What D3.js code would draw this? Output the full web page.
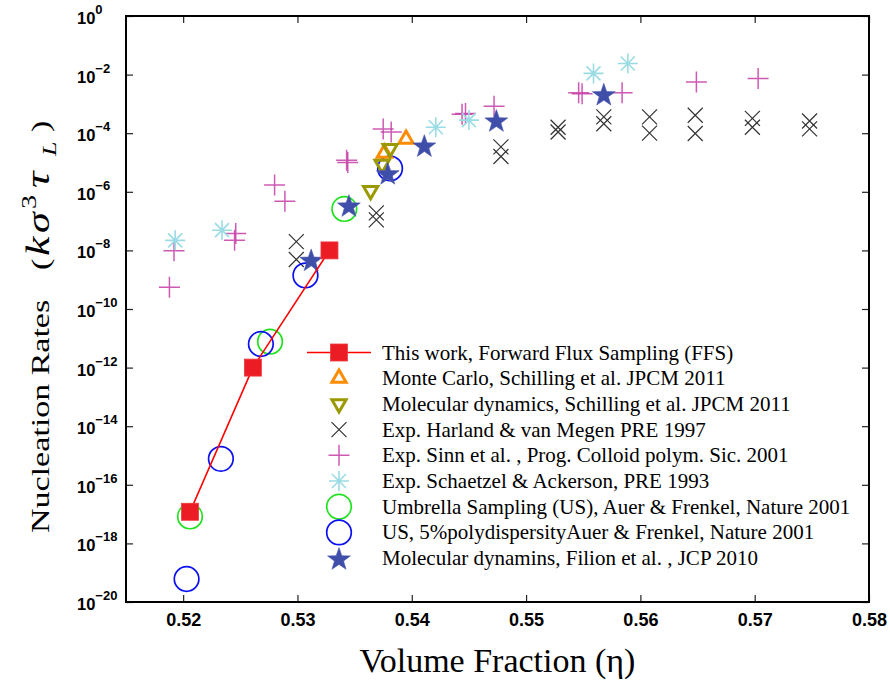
<!DOCTYPE html>
<html>
<head>
<meta charset="utf-8">
<script src="https://cdn.jsdelivr.net/npm/d3@7"></script>
<style>
  html, body { margin: 0; padding: 0; background: #fff; }
  svg { display: block; }
</style>
</head>
<body>
<svg id="chart" width="890" height="689"></svg>
<script>
// Nucleation rate (k sigma^3 tau_L) versus volume fraction eta, per data source.
// Each point: [volume fraction, nucleation rate]
const ffs = [[0.5206, 1.2e-17], [0.5261, 1.0e-12], [0.5328, 1.0e-8]];
const monteCarlo = [[0.5376, 2.1e-5], [0.5395, 6.3e-5]];
const molecularDynamics = [[0.5381, 3.0e-5], [0.5374, 8.7e-6], [0.5364, 1.1e-6]];
const harland = [
  [0.5369, 1.9e-7], [0.5369, 1.1e-7], [0.5299, 2.0e-8], [0.5299, 4.9e-9],
  [0.5478, 3.4e-5], [0.5478, 1.6e-5], [0.5528, 1.6e-4], [0.5528, 1.1e-4],
  [0.5568, 3.6e-4], [0.5568, 2.1e-4], [0.5608, 3.6e-4], [0.5608, 1.0e-4],
  [0.5648, 4.1e-4], [0.5648, 9.8e-5], [0.5698, 3.2e-4], [0.5698, 1.6e-4],
  [0.5748, 2.6e-4], [0.5748, 1.4e-4]
];
const sinn = [
  [0.5188, 5.5e-10], [0.5192, 9.8e-9], [0.5246, 3.8e-8], [0.5245, 2.2e-8],
  [0.5280, 1.7e-6], [0.5289, 4.8e-7], [0.5343, 1.2e-5], [0.5344, 1.0e-5],
  [0.5375, 1.4e-4], [0.5382, 1.1e-4], [0.5444, 4.4e-4], [0.5447, 4.7e-4],
  [0.5472, 8.3e-4], [0.5546, 2.4e-3], [0.5549, 2.2e-3], [0.5584, 2.4e-3],
  [0.5649, 5.6e-3], [0.5703, 7.4e-3]
];
const schaetzel = [
  [0.5193, 2.2e-8], [0.5234, 4.9e-8], [0.5421, 1.6e-4], [0.5450, 2.8e-4],
  [0.5559, 1.1e-2], [0.5589, 2.4e-2]
];
const umbrella = [[0.5206, 8.3e-18], [0.5276, 7.7e-12], [0.5341, 2.6e-7]];
const umbrellaPoly = [
  [0.5203, 6.1e-20], [0.5233, 7.7e-16], [0.5268, 6.4e-12], [0.5307, 1.4e-9],
  [0.5381, 6.3e-6]
];
const filion = [
  [0.5312, 4.9e-9], [0.5345, 3.5e-7], [0.5379, 4.4e-6], [0.5411, 3.9e-5],
  [0.5474, 2.8e-4], [0.5568, 2.2e-3]
];

const xTicks = [0.52, 0.53, 0.54, 0.55, 0.56, 0.57, 0.58];
const yTickExponents = [0, -2, -4, -6, -8, -10, -12, -14, -16, -18, -20];

const legendLabels = [
  "This work, Forward Flux Sampling (FFS)",
  "Monte Carlo, Schilling et al. JPCM 2011",
  "Molecular dynamics, Schilling et al. JPCM 2011",
  "Exp. Harland & van Megen PRE 1997",
  "Exp. Sinn et al. , Prog. Colloid polym. Sic. 2001",
  "Exp. Schaetzel & Ackerson, PRE 1993",
  "Umbrella Sampling (US), Auer & Frenkel, Nature 2001",
  "US, 5%polydispersityAuer & Frenkel, Nature 2001",
  "Molecular dynamins, Filion et al. , JCP 2010"
];

const svg = d3.select("#chart");
const plotLeft = 126, plotRight = 869, plotTop = 16, plotBottom = 602;

const x = d3.scaleLinear().domain([0.515, 0.58]).range([plotLeft, plotRight]);
const y = d3.scaleLog().domain([1e-20, 1]).range([plotBottom, plotTop]);

// ---- marker shapes ----
const shapes = {
  square: (g) => g.append("rect").attr("x", -8.5).attr("y", -8.5).attr("width", 17).attr("height", 17)
    .attr("fill", "#ec1c24").attr("stroke", "#f03a40").attr("stroke-width", 0.8),
  triUp: (g, c) => g.append("path").attr("d", "M0,-8.2L7.1,4.1L-7.1,4.1Z")
    .attr("fill", "none").attr("stroke", c).attr("stroke-width", 3).attr("stroke-linejoin", "miter"),
  triDown: (g, c) => g.append("path").attr("d", "M0,8.2L7.1,-4.1L-7.1,-4.1Z")
    .attr("fill", "none").attr("stroke", c).attr("stroke-width", 3).attr("stroke-linejoin", "miter"),
  xmark: (g) => g.append("path").attr("d", "M-7.5,-7.5L7.5,7.5M-7.5,7.5L7.5,-7.5")
    .attr("stroke", "#333").attr("stroke-width", 1.2).attr("fill", "none"),
  plus: (g) => g.append("path").attr("d", "M-10.5,0H10.5M0,-10.5V10.5")
    .attr("stroke", "#c63da6").attr("stroke-width", 1.5).attr("stroke-opacity", 0.85).attr("fill", "none"),
  aster: (g) => g.append("path").attr("d", "M-10,0H10M0,-10V10M-7,-7L7,7M-7,7L7,-7")
    .attr("stroke", "#9adbe4").attr("stroke-width", 1.6).attr("fill", "none"),
  circle: (g, c) => g.append("circle").attr("r", 12.3)
    .attr("fill", "none").attr("stroke", c).attr("stroke-width", 1.7),
  star: (g) => {
    const pts = [];
    for (let i = 0; i < 10; i++) {
      const r = i % 2 === 0 ? 12 : 4.8;
      const a = -Math.PI / 2 + i * Math.PI / 5;
      pts.push([r * Math.cos(a), r * Math.sin(a)]);
    }
    return g.append("path").attr("d", "M" + pts.map(p => p.join(",")).join("L") + "Z")
      .attr("transform", "translate(0,1.5)")
      .attr("fill", "#3f4ea8").attr("stroke", "#4a58ae").attr("stroke-width", 0.6);
  }
};

function drawSeries(data, shape, color) {
  const g = svg.append("g");
  data.forEach(d => {
    const m = g.append("g").attr("transform", `translate(${x(d[0])},${y(d[1])})`);
    shapes[shape](m, color);
  });
}

// ---- data marks ----
drawSeries(harland, "xmark");
drawSeries(sinn, "plus");
drawSeries(schaetzel, "aster");
drawSeries(umbrella, "circle", "#1fe21f");
drawSeries(umbrellaPoly, "circle", "#0a10f0");
drawSeries(monteCarlo, "triUp", "#ff8c00");
drawSeries(molecularDynamics, "triDown", "#9a9a00");
drawSeries(filion, "star");

svg.append("path")
  .datum(ffs)
  .attr("fill", "none")
  .attr("stroke", "#ff0000")
  .attr("stroke-width", 1.6)
  .attr("d", d3.line().x(d => x(d[0])).y(d => y(d[1])));
drawSeries(ffs, "square");

// ---- axes (ticks inward on all four sides) ----
const tickFont = "'Liberation Sans', Arial, Helvetica, sans-serif";

const xAxis = svg.append("g").attr("transform", `translate(0,${plotBottom})`)
  .call(d3.axisBottom(x).tickValues(xTicks).tickSizeInner(-7).tickSizeOuter(0).tickPadding(11)
    .tickFormat(d3.format(".2f")));
xAxis.selectAll("text").attr("font-family", tickFont).attr("font-weight", "bold")
  .attr("font-size", 18).attr("fill", "#000");

svg.append("g").attr("transform", `translate(0,${plotTop})`)
  .call(d3.axisTop(x).tickValues(xTicks).tickSizeInner(-7).tickSizeOuter(0).tickFormat(""));

const yTickVals = yTickExponents.map(e => Math.pow(10, e));
const yAxis = svg.append("g").attr("transform", `translate(${plotLeft},0)`)
  .call(d3.axisLeft(y).tickValues(yTickVals).tickSizeInner(-7).tickSizeOuter(0).tickFormat(""));
// power-of-ten labels share a common left edge
yAxis.selectAll(".tick").each(function (d, i) {
  const t = d3.select(this).append("text")
    .attr("x", -49).attr("y", 7.5).attr("text-anchor", "start")
    .attr("font-family", tickFont).attr("font-weight", "bold").attr("font-size", 16.5)
    .attr("fill", "#000");
  t.append("tspan").text("10");
  t.append("tspan").attr("dy", -10).attr("font-size", 13).text(String(yTickExponents[i]).replace("-", "\u2212"));
});

svg.append("g").attr("transform", `translate(${plotRight},0)`)
  .call(d3.axisRight(y).tickValues(yTickVals).tickSizeInner(-7).tickSizeOuter(0).tickFormat(""));

svg.selectAll(".tick line").attr("stroke", "#222").attr("stroke-width", 1.2);
svg.selectAll(".domain").remove();

svg.append("rect")
  .attr("x", plotLeft).attr("y", plotTop).attr("width", plotRight - plotLeft).attr("height", plotBottom - plotTop)
  .attr("fill", "none").attr("stroke", "#000").attr("stroke-width", 2);

// ---- axis titles ----
const serif = "'Liberation Serif', 'Times New Roman', Times, serif";

svg.append("text")
  .attr("x", (plotLeft + plotRight) / 2).attr("y", 672)
  .attr("text-anchor", "middle")
  .attr("font-family", serif).attr("font-size", 34).attr("fill", "#000")
  .text("Volume Fraction (\u03b7)");

// rotated title; local x runs upward along the page, glyph height is narrowed
const yTitle = svg.append("text")
  .attr("transform", "translate(49,0) rotate(-90) scale(1,0.75)")
  .attr("font-family", serif).attr("font-size", 34).attr("fill", "#000");
yTitle.append("tspan").attr("x", -533).attr("y", 0).text("Nucleation Rates");
yTitle.append("tspan").attr("x", -270).attr("y", 0).text("(");
yTitle.append("tspan").attr("x", -256).attr("y", 0).attr("font-style", "italic").attr("font-size", 44).text("k");
yTitle.append("tspan").attr("x", -233).attr("y", 0).attr("font-style", "italic").attr("font-size", 42).text("\u03c3");
yTitle.append("tspan").attr("x", -209).attr("y", -17).attr("font-size", 28).text("3");
yTitle.append("tspan").attr("x", -188).attr("y", 0).attr("font-style", "italic").attr("font-size", 46).text("\u03c4");
yTitle.append("tspan").attr("x", -156).attr("y", 9).attr("font-style", "italic").attr("font-size", 26).text("L");
yTitle.append("tspan").attr("x", -132).attr("y", 0).text(")");

// ---- legend ----
const legendShapes = [
  ["square"], ["triUp", "#ff8c00"], ["triDown", "#9a9a00"], ["xmark"], ["plus"],
  ["aster"], ["circle", "#1fe21f"], ["circle", "#0a10f0"], ["star"]
];
const legend = svg.append("g");
legendLabels.forEach((label, i) => {
  const ry = 352.5 + i * 25.7;
  const row = legend.append("g").attr("transform", `translate(339,${ry})`);
  if (i === 0) {
    row.append("line").attr("x1", -32).attr("x2", 32)
      .attr("stroke", "#ff0000").attr("stroke-width", 1.6);
  }
  shapes[legendShapes[i][0]](row, legendShapes[i][1]);
  legend.append("text")
    .attr("x", 382).attr("y", ry + 7)
    .attr("font-family", serif).attr("font-size", 21).attr("fill", "#000")
    .text(label);
});
</script>
</body>
</html>
